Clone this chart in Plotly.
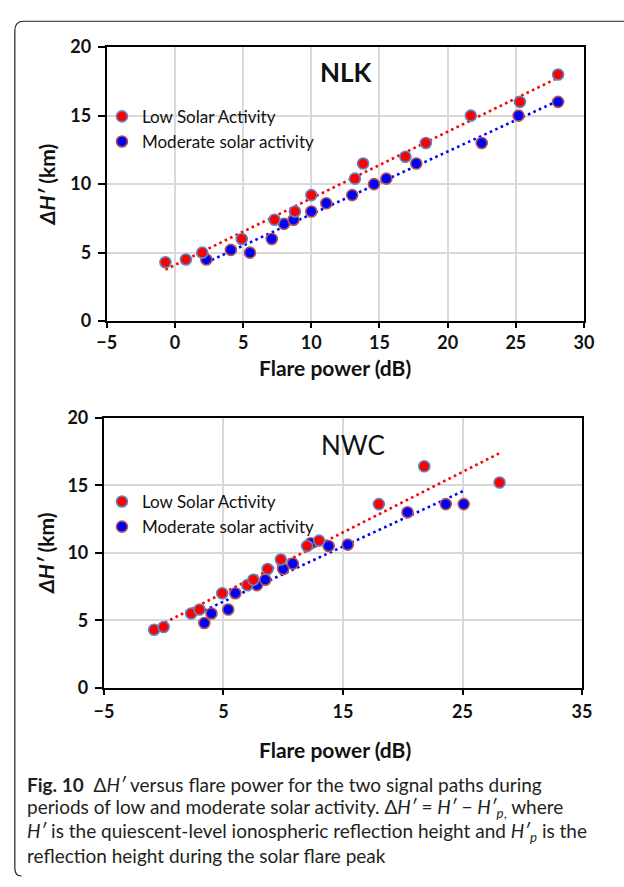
import numpy as np
import plotly.graph_objects as go

W, H = 624, 887

# ---------------- data ----------------
nlk_low_x = [-0.7, 0.8, 2.0, 4.9, 7.3, 8.8, 10.0, 13.2, 13.8, 16.9, 18.4, 21.7, 25.3, 28.1]
nlk_low_y = [4.3, 4.5, 5.0, 6.0, 7.4, 8.0, 9.2, 10.4, 11.5, 12.0, 13.0, 15.0, 16.0, 18.0]
nlk_mod_x = [2.3, 4.1, 5.5, 7.1, 8.0, 8.7, 10.0, 11.1, 13.0, 14.6, 15.5, 17.7, 22.5, 25.2, 28.1]
nlk_mod_y = [4.5, 5.2, 5.0, 6.0, 7.1, 7.4, 8.0, 8.6, 9.2, 10.0, 10.4, 11.5, 13.0, 15.0, 16.0]

nwc_low_x = [-0.8, 0.0, 2.3, 3.0, 4.9, 7.0, 7.5, 8.7, 9.8, 12.0, 13.0, 18.0, 21.8, 28.1]
nwc_low_y = [4.3, 4.5, 5.5, 5.8, 7.0, 7.6, 8.0, 8.8, 9.5, 10.5, 10.9, 13.6, 16.4, 15.2]
nwc_mod_x = [3.4, 4.0, 5.4, 6.0, 7.8, 8.5, 10.0, 10.8, 12.3, 13.8, 15.4, 20.4, 23.6, 25.1]
nwc_mod_y = [4.8, 5.5, 5.8, 7.0, 7.6, 8.0, 8.8, 9.2, 10.7, 10.5, 10.6, 13.0, 13.6, 13.6]

low_name = "Low Solar Activity"
mod_name = "Moderate solar activity"

# ---------------- helpers ----------------
def px(x):
    return x / W

def py(y):
    return 1 - y / H

FONT = "Lato"
RED = "#FF0000"
BLUE = "#0000FF"
LOW_EDGE = "#5A8AC6"
MOD_EDGE = "#B0554A"
GRID = "#D9D9D9"

fig = go.Figure()

def add_panel(lx, ly, mx, my, xa, ya, legend):
    for xs, ys, col in [(lx, ly, RED), (mx, my, BLUE)]:
        c = np.polyfit(xs, ys, 1)
        xt = np.array([min(xs), max(xs)])
        fig.add_trace(go.Scatter(x=xt, y=np.polyval(c, xt), mode="lines",
                                 line=dict(color=col, width=2.6, dash="2.6px,3.4px"),
                                 showlegend=False, hoverinfo="skip",
                                 xaxis=xa, yaxis=ya))
    fig.add_trace(go.Scatter(x=mx, y=my, mode="markers", name=mod_name,
                             marker=dict(size=11, color=BLUE, line=dict(color=MOD_EDGE, width=1.6)),
                             xaxis=xa, yaxis=ya, legend=legend, legendrank=2))
    fig.add_trace(go.Scatter(x=lx, y=ly, mode="markers", name=low_name,
                             marker=dict(size=11, color=RED, line=dict(color=LOW_EDGE, width=1.6)),
                             xaxis=xa, yaxis=ya, legend=legend, legendrank=1))

add_panel(nlk_low_x, nlk_low_y, nlk_mod_x, nlk_mod_y, "x", "y", "legend")
add_panel(nwc_low_x, nwc_low_y, nwc_mod_x, nwc_mod_y, "x2", "y2", "legend2")

tickfont = dict(family=FONT, size=18, color="#111", weight="bold")
axis_common = dict(showline=True, linecolor="#000", linewidth=2, mirror=True,
                   tickwidth=1.5, tickcolor="#000",
                   showgrid=True, gridcolor=GRID, gridwidth=1.5, zeroline=False,
                   tickfont=tickfont)

fig.update_layout(
    width=W, height=H,
    margin=dict(l=0, r=0, t=0, b=0),
    paper_bgcolor="white", plot_bgcolor="white",
    xaxis=dict(domain=[px(100), px(593)], range=[-5, 30], tick0=-5, dtick=5,
               anchor="y", ticks="outside", ticklen=5, ticklabelstandoff=-1, **axis_common),
    yaxis=dict(domain=[py(317), py(36)], range=[0, 20], tick0=0, dtick=5,
               anchor="x", ticks="outside", ticklen=7, ticklabelstandoff=3, **axis_common),
    xaxis2=dict(domain=[px(97), px(591)], range=[-5, 35], tick0=-5, dtick=10,
                anchor="y2", ticks="outside", ticklen=5, ticklabelstandoff=2, **axis_common),
    yaxis2=dict(domain=[py(693), py(416)], range=[0, 20], tick0=0, dtick=5,
                anchor="x2", ticks="outside", ticklen=7, ticklabelstandoff=3, **axis_common),
    legend=dict(x=px(95), y=py(89), xanchor="left", yanchor="top",
                bgcolor="rgba(0,0,0,0)", font=dict(family=FONT, size=17, color="#111"),
                itemwidth=30, tracegroupgap=0),
    legend2=dict(x=px(95), y=py(484), xanchor="left", yanchor="top",
                 bgcolor="rgba(0,0,0,0)", font=dict(family=FONT, size=17, color="#111"),
                 itemwidth=30, tracegroupgap=0),
    showlegend=True,
)

ann = []
# axis titles
for xc, yc in [(38, 177), (36, 555)]:
    ann.append(dict(x=px(xc), y=py(yc), xref="paper", yref="paper", textangle=-90,
                    text="<b><i>ΔH′</i> (km)</b>", showarrow=False,
                    font=dict(family=FONT, size=21, color="#111"),
                    xanchor="center", yanchor="middle"))
for yc in [365, 756]:
    ann.append(dict(x=px(336), y=py(yc), xref="paper", yref="paper",
                    text="<b>Flare power (dB)</b>", showarrow=False,
                    font=dict(family=FONT, size=21, color="#111"),
                    xanchor="center", yanchor="middle"))
# panel titles
ann.append(dict(x=px(348), y=py(62), xref="paper", yref="paper", text="<b>NLK</b>",
                showarrow=False, font=dict(family=FONT, size=26, color="#111"),
                xanchor="center", yanchor="middle"))
ann.append(dict(x=px(354), y=py(444), xref="paper", yref="paper", text="NWC",
                showarrow=False, font=dict(family=FONT, size=26, color="#111"),
                xanchor="center", yanchor="middle"))

# caption
cap_lines = [
    "<b>Fig. 10</b>  Δ<i>H′</i> versus flare power for the two signal paths during",
    "periods of low and moderate solar activity. Δ<i>H′</i> = <i>H′</i> − <i>H′</i><sub><i>p</i>,</sub> where",
    "<i>H′</i> is the quiescent-level ionospheric reflection height and <i>H′</i><sub><i>p</i></sub> is the",
    "reflection height during the solar flare peak",
]
cap_y = [792, 816, 841, 865]
for t, yc in zip(cap_lines, cap_y):
    ann.append(dict(x=px(16), y=py(yc), xref="paper", yref="paper", text=t,
                    showarrow=False, font=dict(family=FONT, size=19, color="#231F20"),
                    xanchor="left", yanchor="middle", align="left"))
fig.update_layout(annotations=ann)

# outer rounded frame
fig.add_shape(type="path", xref="paper", yref="paper",
              path=(f"M {px(640)},{py(9.5)} L {px(14)},{py(9.5)} "
                    f"Q {px(5)},{py(9.5)} {px(5)},{py(19)} L {px(5)},{py(878)} "
                    f"Q {px(5)},{py(886)} {px(12)},{py(886)}"),
              line=dict(color="#222", width=1.2))

fig.write_html("out.html")
